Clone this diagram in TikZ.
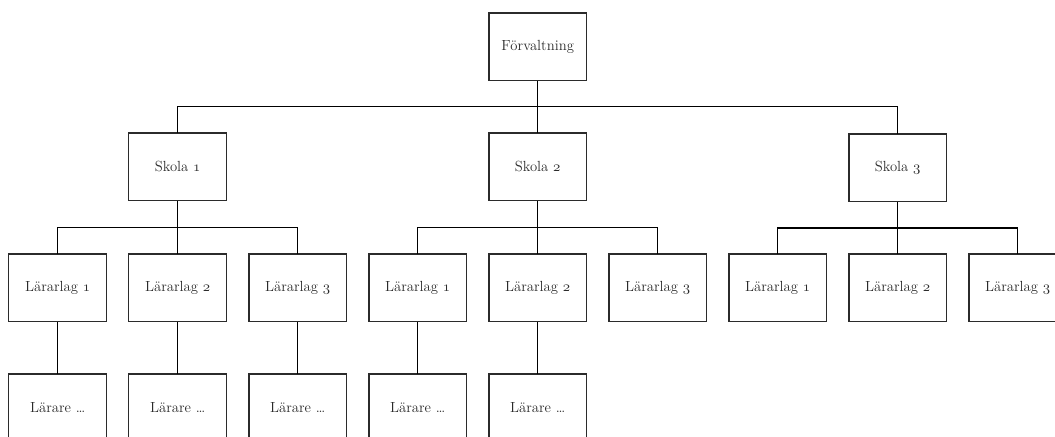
\documentclass[tikz,border=0pt]{standalone}
\usepackage{tikz}
\usetikzlibrary{matrix,calc}
\newcommand{\onum}[1]{{\usefont{OML}{cmm}{m}{it}#1}}
\definecolor{boxgray}{HTML}{2B2B2B}

\begin{document}
\begin{tikzpicture}[line width=1pt
	,x=0.75pt,y=-0.75pt
	,font=\fontsize{11}{13}\selectfont]
  \tikzset{orgbox/.style={draw=boxgray,text=boxgray
    ,minimum width=73.25pt,minimum height=50.75pt
    ,inner sep=0pt,outer sep=0pt}}

  \useasboundingbox (0,0) rectangle (1055,436);

  \matrix (m) [matrix of nodes,anchor=north west,inner sep=0pt
  ,row sep=38.25pt,column sep=15.75pt] at (7.5,11.5) {
    % top
    & & & &
    \node[orgbox](forv) {F\"orvaltning}; & & & & \\
    % skolor
    &
    \node[orgbox](sk1) {Skola \onum{1}}; & & &
    \node[orgbox](sk2) {Skola \onum{2}}; & & &
    \node[orgbox](sk3) {Skola \onum{3}}; & \\
    % lararlag
    \node[orgbox](ll11) {L\"ararlag \onum{1}}; &
    \node[orgbox](ll12) {L\"ararlag \onum{2}}; &
    \node[orgbox](ll13) {L\"ararlag \onum{3}}; &
    \node[orgbox](ll21) {L\"ararlag \onum{1}}; &
    \node[orgbox](ll22) {L\"ararlag \onum{2}}; &
    \node[orgbox](ll23) {L\"ararlag \onum{3}}; &
    \node[orgbox](ll31) {L\"ararlag \onum{1}}; &
    \node[orgbox](ll32) {L\"ararlag \onum{2}}; &
    \node[orgbox](ll33) {L\"ararlag \onum{3}}; \\
    % larare
    \node[orgbox](la11) {L\"arare \dots}; &
    \node[orgbox](la12) {L\"arare \dots}; &
    \node[orgbox](la13) {L\"arare \dots}; &
    \node[orgbox](la21) {L\"arare \dots}; &
    \node[orgbox](la22) {L\"arare \dots}; & & & & \\
  };

  % forvaltning -> skolor
  \coordinate (fbar) at ($(forv.south)!.5!(sk2.north)$);
  \draw (forv) -- (sk2);
  \draw (sk1.north) |- (fbar) -| (sk3.north);

  % skolor -> lararlag
  \foreach \s in {1,2,3}{
    \coordinate (sbar\s) at ($(sk\s.south)!.5!(ll\s2.north)$);
    \draw (sk\s) -- (ll\s2);
    \draw (ll\s1.north) |- (sbar\s) -| (ll\s3.north);
  }

  % lararlag -> larare
  \foreach \l in {11,12,13,21,22}
    \draw (ll\l) -- (la\l);

\end{tikzpicture}
\end{document}
